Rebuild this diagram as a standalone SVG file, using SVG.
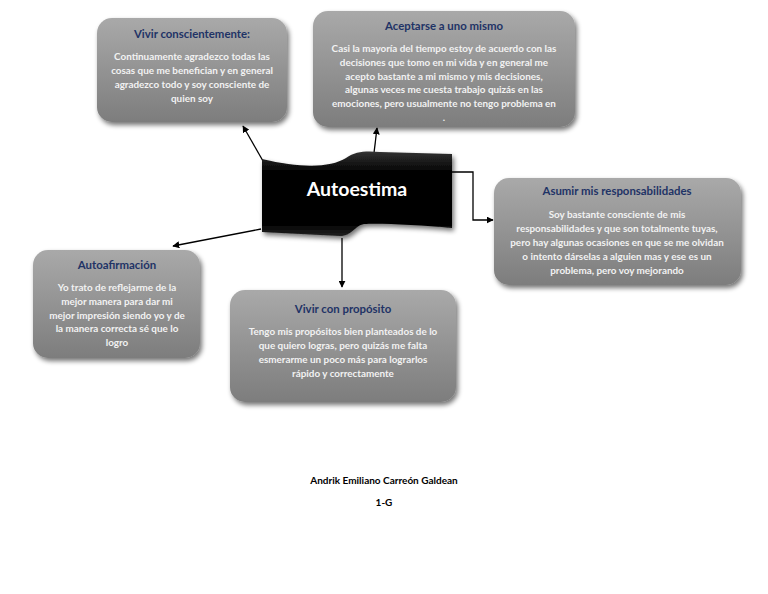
<svg xmlns="http://www.w3.org/2000/svg" width="768" height="594" viewBox="0 0 768 594">
<defs>
<linearGradient id="gbox" x1="0" y1="0" x2="0" y2="1">
<stop offset="0" stop-color="#a9a9a9"/>
<stop offset="1" stop-color="#7d7d7d"/>
</linearGradient>
<linearGradient id="gblk" x1="0" y1="0" x2="0" y2="1">
<stop offset="0" stop-color="#333"/>
<stop offset="0.25" stop-color="#000"/>
<stop offset="0.85" stop-color="#000"/>
<stop offset="1" stop-color="#222"/>
</linearGradient>
<filter id="sh" x="-10%" y="-10%" width="125%" height="130%">
<feGaussianBlur in="SourceAlpha" stdDeviation="2.5"/>
<feOffset dx="1.5" dy="3" result="b"/>
<feComponentTransfer><feFuncA type="linear" slope="0.55"/></feComponentTransfer>
<feMerge><feMergeNode/><feMergeNode in="SourceGraphic"/></feMerge>
</filter>
<marker id="ar" viewBox="0 0 10 10" refX="9" refY="5" markerWidth="7" markerHeight="7" orient="auto" markerUnits="userSpaceOnUse">
<path d="M0,0 L10,5 L0,10 Z" fill="#000"/>
</marker>
</defs>
<style>
.box{fill:url(#gbox);filter:url(#sh)}
.tt{font-family:Lato,"Open Sans","Liberation Sans",sans-serif;font-weight:bold;font-size:11.4px;fill:#1f3366;text-anchor:middle}
.bd{font-family:Lato,"Open Sans","Liberation Sans",sans-serif;font-weight:bold;font-size:9.9px;fill:#f2f2f2;text-anchor:middle}
.ft{font-family:Lato,"Open Sans","Liberation Sans",sans-serif;font-weight:bold;font-size:10px;fill:#000;text-anchor:middle}
.cn{stroke:#000;stroke-width:1.3;fill:none;marker-end:url(#ar)}
</style>
<rect width="768" height="594" fill="#fff"/>

<g id="connectors">
<line class="cn" x1="263" y1="161" x2="243" y2="126"/>
<line class="cn" x1="374" y1="153" x2="377" y2="128"/>
<polyline class="cn" points="452,172 473,172 473,220 493,220"/>
<line class="cn" x1="261" y1="229" x2="173" y2="246"/>
<line class="cn" x1="342" y1="238" x2="342" y2="287"/>
</g>

<g id="autoestima">
<path d="M262,159 C300,168 330,168 346,158 C356,151 366,151 380,152 L452,154 L452,228 C420,225 380,223 364,224 C354,226 352,236 340,236 L262,232 Z" fill="url(#gblk)" filter="url(#sh)"/>
<text x="357" y="196" font-family="Lato,'Open Sans','Liberation Sans',sans-serif" font-weight="bold" font-size="19.5" fill="#fff" text-anchor="middle">Autoestima</text>
</g>

<g id="vivir-conscientemente">
<rect class="box" x="97" y="18" width="190" height="104" rx="15"/>
<text class="tt" x="192" y="38">Vivir conscientemente:</text>
<text class="bd" x="192" y="60">Continuamente agradezco todas las</text>
<text class="bd" x="192" y="74">cosas que me benefician y en general</text>
<text class="bd" x="192" y="88">agradezco todo y soy consciente de</text>
<text class="bd" x="192" y="102">quien soy</text>
</g>

<g id="aceptarse">
<rect class="box" x="313" y="11" width="262" height="116" rx="15"/>
<text class="tt" x="444" y="30">Aceptarse a uno mismo</text>
<text class="bd" x="444" y="52">Casi la mayoría del tiempo estoy de acuerdo con las</text>
<text class="bd" x="444" y="66">decisiones que tomo en mi vida y en general me</text>
<text class="bd" x="444" y="80">acepto bastante a mi mismo y mis decisiones,</text>
<text class="bd" x="444" y="93">algunas veces me cuesta trabajo quizás en las</text>
<text class="bd" x="444" y="107">emociones, pero usualmente no tengo problema en</text>
<text class="bd" x="444" y="121">.</text>
</g>

<g id="asumir">
<rect class="box" x="494" y="178" width="247" height="107" rx="15"/>
<text class="tt" x="617" y="195">Asumir mis responsabilidades</text>
<text class="bd" x="617" y="218">Soy bastante consciente de mis</text>
<text class="bd" x="617" y="232">responsabilidades y que son totalmente tuyas,</text>
<text class="bd" x="617" y="246">pero hay algunas ocasiones en que se me olvidan</text>
<text class="bd" x="617" y="260">o intento dárselas a alguien mas y ese es un</text>
<text class="bd" x="617" y="274">problema, pero voy mejorando</text>
</g>

<g id="autoafirmacion">
<rect class="box" x="33" y="250" width="167" height="108" rx="15"/>
<text class="tt" x="117" y="269">Autoafirmación</text>
<text class="bd" x="117" y="291">Yo trato de reflejarme de la</text>
<text class="bd" x="117" y="305">mejor manera para dar mi</text>
<text class="bd" x="117" y="319">mejor impresión siendo yo y de</text>
<text class="bd" x="117" y="332">la manera correcta sé que lo</text>
<text class="bd" x="117" y="346">logro</text>
</g>

<g id="vivir-proposito">
<rect class="box" x="230" y="290" width="226" height="112" rx="15"/>
<text class="tt" x="343" y="313">Vivir con propósito</text>
<text class="bd" x="343" y="335">Tengo mis propósitos bien planteados de lo</text>
<text class="bd" x="343" y="349">que quiero logras, pero quizás me falta</text>
<text class="bd" x="343" y="363">esmerarme un poco más para lograrlos</text>
<text class="bd" x="343" y="377">rápido y correctamente</text>
</g>

<text class="ft" x="384" y="484">Andrik Emiliano Carreón Galdean</text>
<text class="ft" x="384" y="506">1-G</text>
</svg>
